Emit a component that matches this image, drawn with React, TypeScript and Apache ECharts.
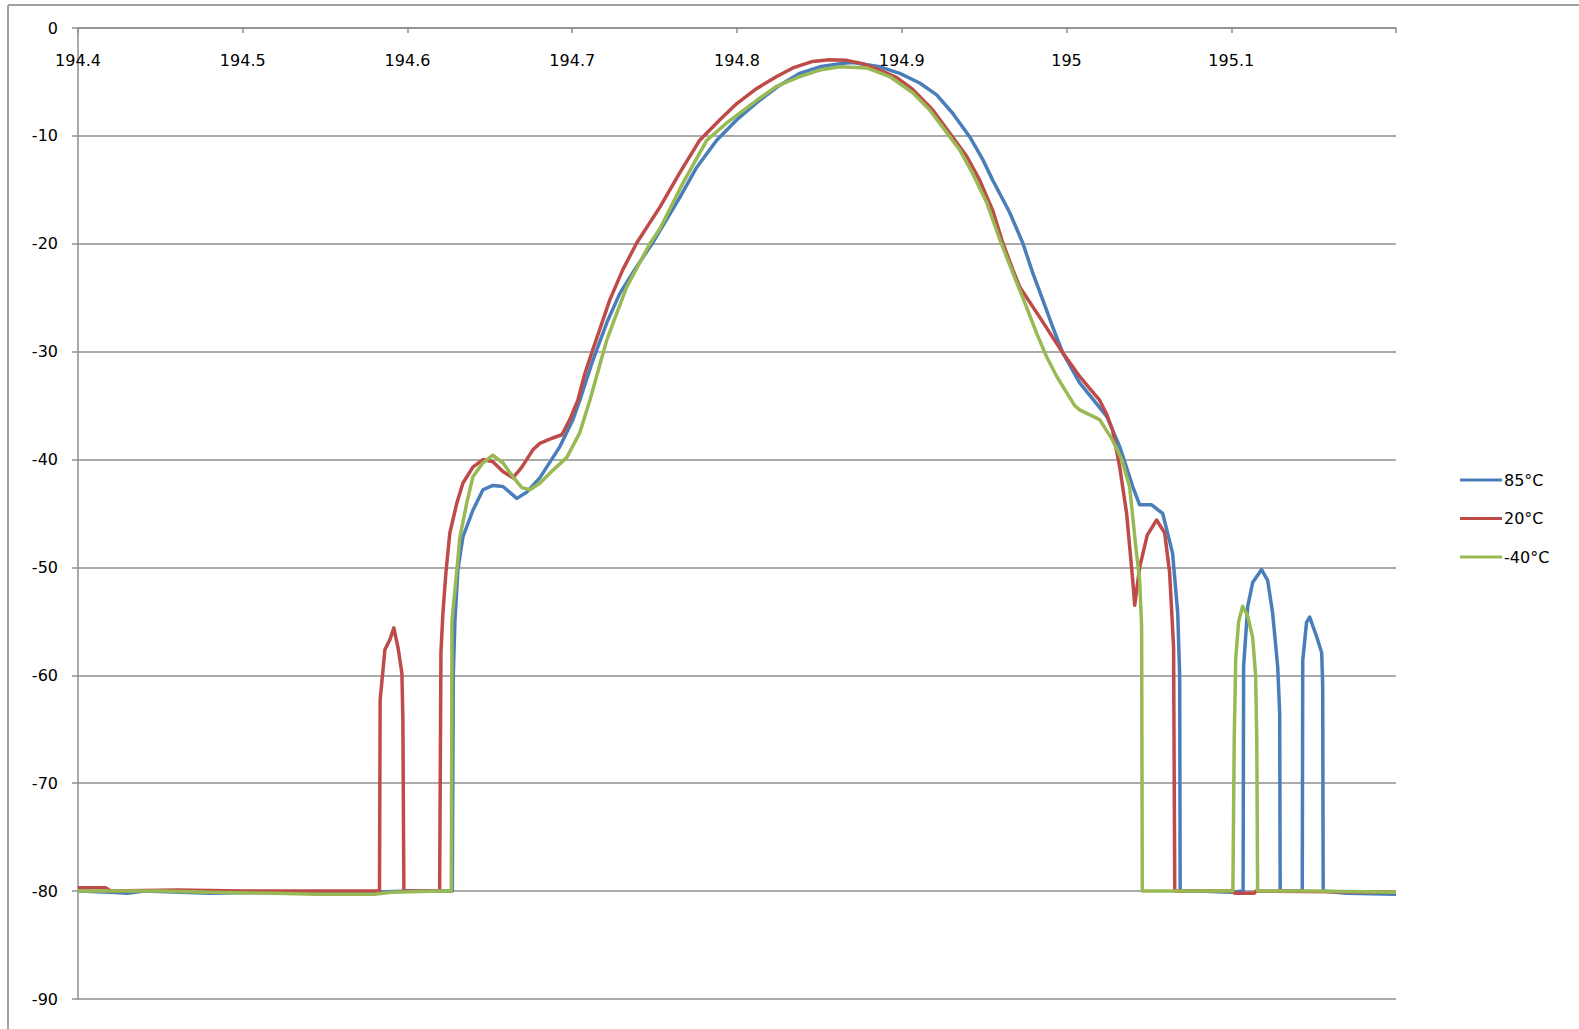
import React, { useEffect, useRef } from "react";
import * as echarts from "echarts";

// Frequency (THz) vs. level (dB)
const seriesNames = ["85°C", "20°C", "-40°C"];
const seriesColors = ["#4a7ebb", "#be4b48", "#98b954"];

const xTicks = { min: 194.4, max: 195.2, step: 0.1 };
const yTicks = { min: -90, max: 0, step: 10 };

const curve85: [number, number][] = [
  [194.4, -80.0], [194.42, -80.1], [194.43, -80.2], [194.44, -80.0], [194.48, -80.2],
  [194.52, -80.1], [194.56, -80.2], [194.6, -80.0], [194.6272, -80.0],
  [194.6278, -60.0], [194.6288, -54.9], [194.6306, -50.2], [194.6336, -47.2], [194.6397, -44.7],
  [194.6458, -42.8], [194.6518, -42.4], [194.6579, -42.5], [194.6664, -43.6], [194.6725, -43.0],
  [194.6803, -41.7], [194.6925, -38.8], [194.7004, -36.3], [194.7046, -34.5], [194.7125, -30.8],
  [194.721, -27.3], [194.7289, -24.6], [194.7392, -22.1], [194.7489, -19.9], [194.7653, -15.7],
  [194.7756, -12.9], [194.7877, -10.4], [194.7999, -8.5], [194.8138, -6.7], [194.826, -5.3],
  [194.8381, -4.2], [194.8502, -3.6], [194.8624, -3.3], [194.8703, -3.2], [194.8867, -3.6],
  [194.8988, -4.2], [194.9109, -5.1], [194.9212, -6.2], [194.9309, -7.9], [194.9413, -10.1],
  [194.9492, -12.2], [194.9552, -14.1], [194.9655, -17.1], [194.9734, -19.9], [194.9795, -22.7],
  [194.9856, -25.2], [194.9916, -27.7], [194.9977, -30.1], [195.008, -32.9], [195.0171, -34.6],
  [195.0244, -36.0], [195.0323, -38.8], [195.0402, -42.5], [195.0444, -44.2], [195.0517, -44.2],
  [195.0584, -45.0], [195.0644, -48.7], [195.0675, -54.2], [195.0687, -60.0], [195.069, -80.0],
  [195.08, -80.0], [195.1, -80.1], [195.1072, -80.0],
  [195.1075, -59.2], [195.11, -53.6], [195.113, -51.4], [195.1184, -50.2], [195.1221, -51.2],
  [195.1251, -54.2], [195.1282, -59.2], [195.1294, -63.5], [195.1297, -80.0], [195.135, -80.0],
  [195.1431, -80.0], [195.1434, -58.6], [195.1457, -55.1], [195.1476, -54.6], [195.1518, -56.4],
  [195.1549, -57.9], [195.1555, -61.0], [195.1558, -80.0], [195.17, -80.2], [195.2, -80.3],
];

const curve20: [number, number][] = [
  [194.4, -79.7], [194.417, -79.7], [194.42, -80.0], [194.46, -79.9], [194.5, -80.0],
  [194.55, -80.0], [194.583, -80.0],
  [194.5834, -62.3], [194.5863, -57.6], [194.5893, -56.7], [194.5917, -55.6], [194.5942, -57.4],
  [194.5966, -59.8], [194.5972, -64.1], [194.5978, -80.0], [194.605, -80.0], [194.6195, -80.0],
  [194.6203, -57.9], [194.6215, -54.2], [194.6233, -50.5], [194.6257, -46.8], [194.63, -44.0],
  [194.6336, -42.2], [194.6397, -40.7], [194.6458, -40.0], [194.6518, -40.2], [194.6579, -41.1],
  [194.664, -41.7], [194.6694, -40.7], [194.6761, -39.1], [194.6803, -38.5], [194.6882, -38.0],
  [194.6937, -37.7], [194.6985, -36.3], [194.7034, -34.5], [194.7077, -32.0], [194.7125, -29.8],
  [194.7228, -25.2], [194.7307, -22.4], [194.7392, -19.9], [194.7532, -16.6], [194.7653, -13.4],
  [194.7774, -10.4], [194.7896, -8.5], [194.7999, -7.0], [194.812, -5.6], [194.8241, -4.5],
  [194.8339, -3.7], [194.846, -3.1], [194.856, -2.95], [194.8666, -3.0], [194.8763, -3.3],
  [194.8867, -3.9], [194.897, -4.6], [194.9067, -5.7], [194.9188, -7.6], [194.9309, -10.1],
  [194.9394, -11.9], [194.9473, -14.1], [194.9552, -16.9], [194.9613, -19.9], [194.9674, -22.4],
  [194.9716, -24.0], [194.9837, -26.8], [194.9977, -30.1], [195.008, -32.3], [195.014, -33.4],
  [195.0201, -34.5], [195.0244, -35.8], [195.028, -37.3], [195.0323, -40.7], [195.0365, -45.0],
  [195.0402, -51.2], [195.0414, -53.5], [195.0444, -50.0], [195.049, -47.0], [195.0547, -45.6],
  [195.0596, -46.8], [195.0626, -50.5], [195.065, -57.4], [195.0657, -80.0], [195.09, -80.0],
  [195.101, -80.0], [195.102, -80.2], [195.114, -80.2], [195.115, -80.0], [195.2, -80.1],
];

const curveM40: [number, number][] = [
  [194.4, -80.0], [194.45, -80.0], [194.48, -80.1], [194.52, -80.2], [194.545, -80.3],
  [194.58, -80.3], [194.59, -80.1], [194.62, -80.0], [194.6266, -80.0],
  [194.627, -54.9], [194.63, -50.2], [194.6318, -47.2], [194.636, -44.0], [194.6397, -41.6],
  [194.6458, -40.3], [194.6518, -39.6], [194.6579, -40.3], [194.664, -41.6], [194.6694, -42.6],
  [194.6743, -42.8], [194.6803, -42.2], [194.6882, -41.0], [194.6967, -39.8], [194.7046, -37.5],
  [194.7107, -34.5], [194.721, -28.9], [194.7271, -26.4], [194.7331, -24.0], [194.7471, -20.0],
  [194.7532, -18.6], [194.7671, -14.4], [194.7817, -10.4], [194.7938, -8.8], [194.812, -6.7],
  [194.8241, -5.4], [194.8381, -4.5], [194.8502, -3.9], [194.8624, -3.6], [194.8788, -3.7],
  [194.8927, -4.5], [194.9067, -6.0], [194.917, -7.6], [194.9273, -9.7], [194.9352, -11.3],
  [194.9431, -13.5], [194.9516, -16.2], [194.9595, -19.6], [194.9674, -22.7], [194.9758, -25.9],
  [194.9819, -28.3], [194.988, -30.5], [194.9941, -32.3], [195.0001, -33.8], [195.005, -35.0],
  [195.008, -35.4], [195.0201, -36.3], [195.028, -38.2], [195.0335, -40.0], [195.0383, -42.5],
  [195.042, -48.0], [195.0444, -51.2], [195.0456, -55.5], [195.046, -80.0], [195.07, -80.0],
  [195.1, -80.0], [195.101, -80.0], [195.1018, -66.0], [195.1027, -58.5], [195.1045, -55.0],
  [195.1069, -53.6], [195.11, -54.5], [195.113, -56.5], [195.1148, -60.0], [195.1155, -66.0],
  [195.116, -80.0], [195.15, -80.0], [195.2, -80.1],
];

const curves = [curve85, curve20, curveM40];

const FONT = "DejaVu Sans";

export default function App() {
  const ref = useRef<HTMLDivElement>(null);
  useEffect(() => {
    if (!ref.current) return;
    const chart = echarts.init(ref.current, undefined, { renderer: "svg" });
    const gray = "#8e8e8e";
    chart.setOption({
      animation: false,
      backgroundColor: "#ffffff",
      textStyle: { fontFamily: FONT },
      grid: { left: 78, right: 183, top: 28, bottom: 30, containLabel: false },
      graphic: [
        { type: "line", shape: { x1: 8, y1: 5, x2: 1579, y2: 5 }, style: { stroke: "#a0a0a0", lineWidth: 2 } },
        { type: "line", shape: { x1: 8, y1: 5, x2: 8, y2: 1029 }, style: { stroke: "#a0a0a0", lineWidth: 2 } },
      ],
      legend: {
        orient: "vertical",
        left: 1455,
        top: 466,
        itemWidth: 42,
        itemHeight: 3,
        itemGap: 20.5,
        icon: "rect",
        data: seriesNames,
        textStyle: { fontFamily: FONT, fontSize: 16, color: "#000", lineHeight: 18, padding: [0, 0, 0, -3] },
      },
      xAxis: {
        type: "value",
        position: "top",
        min: xTicks.min,
        max: xTicks.max,
        interval: xTicks.step,
        axisLine: { show: true, onZero: false, lineStyle: { color: gray, width: 1.5 } },
        axisTick: { show: true, inside: true, length: 5, lineStyle: { color: gray, width: 1.5 } },
        axisLabel: {
          inside: true,
          margin: 24,
          fontFamily: FONT,
          fontSize: 16,
          color: "#000",
          formatter: (v: number) => {
            const r = Math.round(v * 10) / 10;
            return r >= xTicks.max - 1e-9 ? "" : String(r);
          },
        },
        splitLine: { show: false },
      },
      yAxis: {
        type: "value",
        min: yTicks.min,
        max: yTicks.max,
        interval: yTicks.step,
        axisLine: { show: true, onZero: false, lineStyle: { color: gray, width: 1.5 } },
        axisTick: { show: true, inside: false, length: 6, lineStyle: { color: gray, width: 1.5 } },
        axisLabel: { margin: 20, fontFamily: FONT, fontSize: 16, color: "#000" },
        splitLine: { show: true, lineStyle: { color: gray, width: 1.5 } },
      },
      series: curves.map((d, i) => ({
        name: seriesNames[i],
        type: "line",
        data: d,
        showSymbol: false,
        symbol: "none",
        smooth: false,
        color: seriesColors[i],
        lineStyle: { color: seriesColors[i], width: 3.5, join: "round" },
      })),
    });
    return () => chart.dispose();
  }, []);
  return (
    <div
      ref={ref}
      style={{ position: "fixed", left: 0, top: 0, width: "1579px", height: "1029px", background: "#fff" }}
    />
  );
}
